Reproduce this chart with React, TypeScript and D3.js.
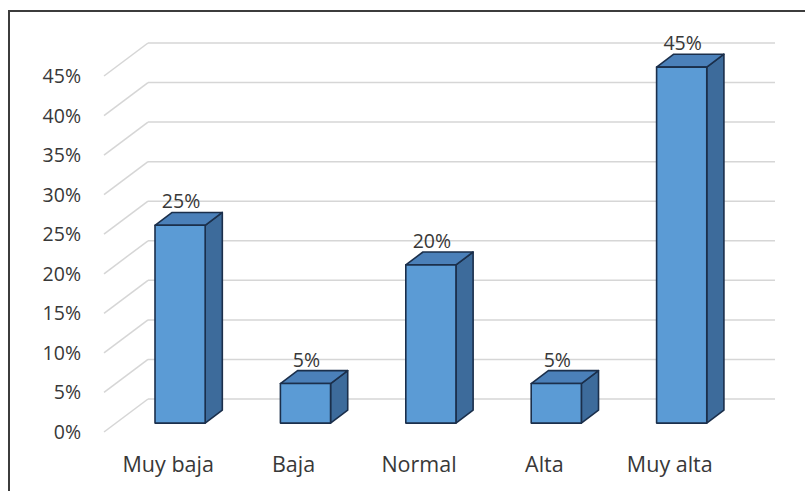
import React from "react";
import * as d3 from "d3";

// Distribution by level
const categories: string[] = ["Muy baja", "Baja", "Normal", "Alta", "Muy alta"];
const values: number[] = [25, 5, 20, 5, 45];
const ticks: number[] = [0, 5, 10, 15, 20, 25, 30, 35, 40, 45];

const W = 805;
const H = 491;

// Front-plane geometry of the 3D box and the depth vector
const floorY = 432;
const topY = 76;
const frontLeft = 104;
const frontRight = 731;
const depthX = 44;
const depthY = -33;
// Bars occupy a slice of the depth between these fractions
const barFront = 0.27;
const barBack = 0.66;

const y = d3.scaleLinear().domain([0, 45]).range([floorY, topY]);
const x = d3
  .scaleBand<string>()
  .domain(categories)
  .range([frontLeft + 1.5, frontRight + 1.5])
  .paddingInner(0.6)
  .paddingOuter(0.3);

const font = "'Open Sans', 'Liberation Sans', sans-serif";
const textColor = "#383838";

export default function App() {
  const fx = barFront * depthX;
  const fy = barFront * depthY;
  const bx = barBack * depthX;
  const by = barBack * depthY;

  return (
    <svg
      width={W}
      height={H}
      style={{ position: "absolute", left: 0, top: 0, background: "#fff" }}
      fontFamily={font}
    >
      <rect x={0} y={0} width={W} height={H} fill="#fff" />
      {/* frame */}
      <rect x={9} y={11} width={W + 20} height={H + 20} fill="none" stroke="#3c3c3c" strokeWidth={2} />

      {/* back wall gridlines and left-wall diagonals */}
      {ticks.map((t) => (
        <g key={t}>
          <line
            x1={frontLeft}
            y1={y(t)}
            x2={frontLeft + depthX}
            y2={y(t) + depthY}
            stroke="#d6d6d6"
            strokeWidth={1.5}
          />
          <line
            x1={frontLeft + depthX}
            y1={y(t) + depthY}
            x2={frontRight + depthX}
            y2={y(t) + depthY}
            stroke="#d6d6d6"
            strokeWidth={1.5}
          />
          <text
            x={81}
            y={y(t)}
            dy="0.36em"
            textAnchor="end"
            fontSize={19.5}
            fill={textColor}
          >
            {t}%
          </text>
        </g>
      ))}

      {/* bars */}
      {categories.map((c, i) => {
        const v = values[i];
        const x0 = (x(c) as number) + fx;
        const x1 = x0 + x.bandwidth();
        const yb = y(0) + fy;
        const yt = y(v) + fy;
        const dx = bx - fx;
        const dy = by - fy;
        const front = `M${x0},${yt}L${x1},${yt}L${x1},${yb}L${x0},${yb}Z`;
        const side = `M${x1},${yt}L${x1 + dx},${yt + dy}L${x1 + dx},${yb + dy}L${x1},${yb}Z`;
        const top = `M${x0},${yt}L${x0 + dx},${yt + dy}L${x1 + dx},${yt + dy}L${x1},${yt}Z`;
        return (
          <g key={c} stroke="#1b2f4b" strokeWidth={1.6} strokeLinejoin="round">
            <path d={side} fill="#3d6b9b" />
            <path d={top} fill="#4b80b9" />
            <path d={front} fill="#5b9bd5" />
            <text
              x={(x0 + x1) / 2 + 1}
              y={yt + dy - 4}
              textAnchor="middle"
              fontSize={19.5}
              fill={textColor}
              stroke="none"
            >
              {v}%
            </text>
          </g>
        );
      })}

      {/* category labels */}
      {categories.map((c) => (
        <text
          key={c}
          x={(x(c) as number) + x.bandwidth() / 2}
          y={471.5}
          textAnchor="middle"
          fontSize={21.5}
          fill={textColor}
        >
          {c}
        </text>
      ))}
    </svg>
  );
}
